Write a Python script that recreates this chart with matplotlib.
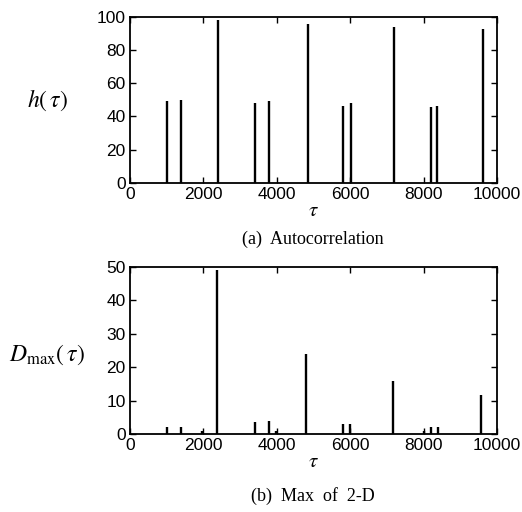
import matplotlib
matplotlib.use("Agg")
import matplotlib.pyplot as plt

plt.rcParams['mathtext.fontset'] = 'stix'
plt.rcParams['font.family'] = ['Liberation Sans Narrow', 'Liberation Sans', 'DejaVu Sans']

# Autocorrelation h(tau)
tau_a = [1000, 1400, 2400, 3400, 3800, 4840, 5810, 6010, 7190, 8190, 8380, 9610]
h_a = [49, 50, 98, 48, 49, 96, 46, 48, 94, 45.5, 46, 92.5]

# Max of 2-D D_max(tau)
tau_b = [1000, 1400, 1960, 2380, 3400, 3800, 3970, 4790, 5800, 6000, 7160, 8000, 8200, 8400, 9570]
d_b = [2.2, 2, 1, 49, 3.7, 4, 1, 23.8, 3, 3, 15.8, 1, 2, 2, 11.8]

fig = plt.figure(figsize=(5.22, 5.12), dpi=100)
ax1 = fig.add_axes([0.249, 0.643, 0.703, 0.324])
ax2 = fig.add_axes([0.249, 0.152, 0.703, 0.327])

for ax, x, y, ymax, yt in [(ax1, tau_a, h_a, 100, range(0, 101, 20)),
                           (ax2, tau_b, d_b, 50, range(0, 51, 10))]:
    ax.vlines(x, 0, y, color='black', lw=1.7)
    ax.set_xlim(0, 10000)
    ax.set_ylim(0, ymax)
    ax.set_xticks(range(0, 10001, 2000))
    ax.set_yticks(list(yt))
    ax.tick_params(direction='in', top=True, right=True, length=4, width=1,
                   labelsize=12.5, pad=3)
    for s in ax.spines.values():
        s.set_linewidth(1.3)
    ax.set_xlabel(r'$\tau$', fontsize=15, labelpad=-1)

fig.text(0.09, 0.805, r'$h(\,\tau)$', fontsize=17, ha='center', va='center')
fig.text(0.09, 0.307, r'$D_{\rm max}(\,\tau)$', fontsize=17, ha='center', va='center')

fig.text(0.6, 0.532, '(a)  Autocorrelation', ha='center', va='center',
         family='Liberation Serif', fontsize=13)
fig.text(0.6, 0.031, '(b)  Max  of  2-D', ha='center', va='center',
         family='Liberation Serif', fontsize=13)

fig.savefig('out.png', dpi=100)
